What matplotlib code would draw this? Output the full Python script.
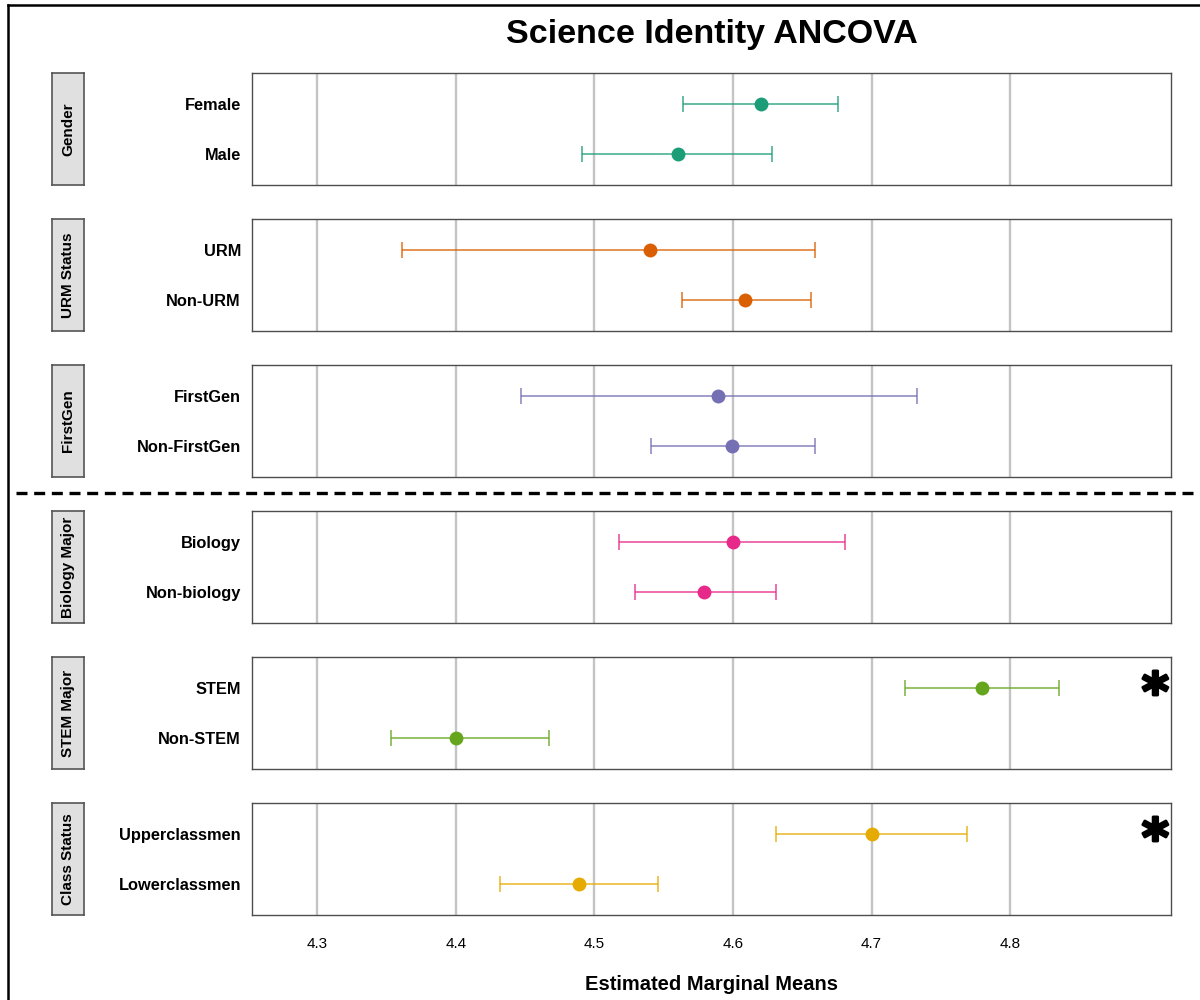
import matplotlib
matplotlib.use("Agg")
import matplotlib.pyplot as plt
import matplotlib.patheffects as pe
from matplotlib.lines import Line2D

plt.rcParams['font.family'] = ['Liberation Sans', 'DejaVu Sans']

# Estimated marginal means with 95% CI, grouped by factor
factors = ["Gender", "URM Status", "FirstGen", "Biology Major", "STEM Major", "Class Status"]
levels = [
    ["Female", "Male"],
    ["URM", "Non-URM"],
    ["FirstGen", "Non-FirstGen"],
    ["Biology", "Non-biology"],
    ["STEM", "Non-STEM"],
    ["Upperclassmen", "Lowerclassmen"],
]
emmeans = [
    [4.620, 4.560],
    [4.540, 4.609],
    [4.589, 4.599],
    [4.600, 4.579],
    [4.780, 4.400],
    [4.700, 4.489],
]
ci_low = [
    [4.564, 4.491],
    [4.361, 4.563],
    [4.447, 4.541],
    [4.518, 4.529],
    [4.724, 4.353],
    [4.631, 4.432],
]
ci_high = [
    [4.676, 4.628],
    [4.659, 4.656],
    [4.733, 4.659],
    [4.681, 4.631],
    [4.835, 4.467],
    [4.769, 4.546],
]
significant = [False, False, False, False, True, True]
colors = ["#1B9E77", "#D95F02", "#7570B3", "#E7298A", "#66A61E", "#E6AB02"]
x_ticks = [4.3, 4.4, 4.5, 4.6, 4.7, 4.8]
x_limits = (4.253, 4.916)

W, H = 1200, 1000
fig = plt.figure(figsize=(W / 100, H / 100), dpi=100)


def px_box(x0, y0, w, h):
    return [x0 / W, 1 - (y0 + h) / H, w / W, h / H]


panel_left, panel_w, panel_h = 252, 919, 112
panel_tops = [73, 219, 365, 511, 657, 803]

for i, factor in enumerate(factors):
    top = panel_tops[i]
    ax = fig.add_axes(px_box(panel_left, top, panel_w, panel_h))
    ypos = [1, 2]
    for j in range(2):
        m = emmeans[i][j]
        lo, hi = ci_low[i][j], ci_high[i][j]
        ax.errorbar([m], [ypos[j]], xerr=[[m - lo], [hi - m]], fmt='none',
                    ecolor=colors[i], elinewidth=1.2, capsize=5.8,
                    capthick=1.2, alpha=0.8, zorder=3)
        ax.plot([m], [ypos[j]], 'o', color=colors[i], ms=10, mec='none', zorder=4)
    ax.set_xlim(*x_limits)
    ax.set_ylim(2.6, 0.4)
    ax.set_yticks(ypos)
    ax.set_yticklabels(levels[i], fontsize=11.8, fontweight='bold')
    ax.set_xticks(x_ticks)
    ax.grid(axis='x', color='#C4C4C4', linewidth=1.7, zorder=0)
    ax.set_axisbelow(True)
    ax.tick_params(axis='y', length=0, pad=8)
    ax.tick_params(axis='x', length=0, pad=16, labelsize=11)
    if i < len(factors) - 1:
        ax.tick_params(axis='x', labelbottom=False)
    else:
        ax.set_xticklabels([f"{t:.1f}" for t in x_ticks])
        ax.set_xlabel("Estimated Marginal Means", fontsize=14.5,
                      fontweight='bold', labelpad=17)
    for s in ax.spines.values():
        s.set_color('#4D4D4D')
        s.set_linewidth(1.0)
    if significant[i]:
        ax.text(0.983, 1.15, "*", transform=ax.get_yaxis_transform(),
                fontsize=37, fontweight='bold', family='DejaVu Sans',
                ha='center', va='center', color='black',
                path_effects=[pe.withStroke(linewidth=2.2, foreground='black')])

    # facet strip on the left
    sax = fig.add_axes(px_box(52, top, 32, panel_h))
    sax.set_facecolor('#E0E0E0')
    sax.set_xticks([])
    sax.set_yticks([])
    for s in sax.spines.values():
        s.set_color('#555555')
        s.set_linewidth(1.2)
    sax.text(0.5, 0.5, factor, rotation=90, ha='center', va='center',
             fontsize=11, fontweight='bold', transform=sax.transAxes)

fig.text(711.5 / W, 1 - 34 / H, "Science Identity ANCOVA", ha='center',
         va='center', fontsize=24.5, fontweight='bold')

# separator between demographic and academic factors
fig.add_artist(Line2D([16 / W, 1.0], [1 - 493 / H, 1 - 493 / H], color='black',
                      linewidth=2.4, linestyle=(0, (3.3, 2.0))))

# outer frame (top and left edges)
fig.add_artist(Line2D([8 / W, 1.0], [1 - 5 / H, 1 - 5 / H], color='black', linewidth=1.8))
fig.add_artist(Line2D([8 / W, 8 / W], [0.0, 1 - 5 / H], color='black', linewidth=1.8))

fig.savefig("out.png", dpi=100)
